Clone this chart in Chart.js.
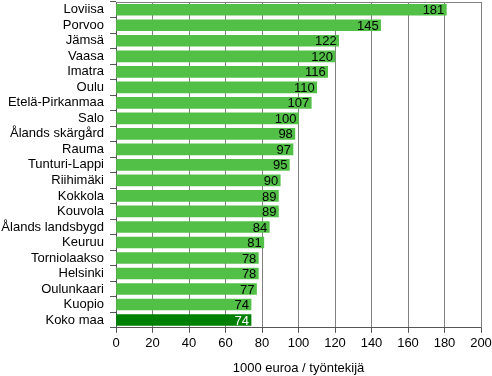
<!DOCTYPE html>
<html lang="fi">
<head>
<meta charset="UTF-8">
<title>1000 euroa / työntekijä</title>
<script src="https://cdn.jsdelivr.net/npm/chart.js"></script>
<style>
  html, body { margin: 0; padding: 0; background: #ffffff; }
  #wrap { width: 492px; height: 376px; }
</style>
</head>
<body>
<div id="wrap"><canvas id="chart" width="492" height="376"></canvas></div>
<script>
const regions = ['Loviisa', 'Porvoo', 'Jämsä', 'Vaasa', 'Imatra', 'Oulu', 'Etelä-Pirkanmaa', 'Salo',
  'Ålands skärgård', 'Rauma', 'Tunturi-Lappi', 'Riihimäki', 'Kokkola', 'Kouvola', 'Ålands landsbygd',
  'Keuruu', 'Torniolaakso', 'Helsinki', 'Oulunkaari', 'Kuopio', 'Koko maa'];
const values = [181, 145, 122, 120, 116, 110, 107, 100, 98, 97, 95, 90, 89, 89, 84, 81, 78, 78, 77, 74, 74];
const xTitle = '1000 euroa / työntekijä';

const barColors = regions.map(r => r === 'Koko maa' ? '#008000' : '#52c047');
const FONT = { family: 'Liberation Sans, Arial, sans-serif', size: 13 };

// value labels drawn inside the bar end
const valueLabels = {
  id: 'valueLabels',
  afterDatasetsDraw(chart) {
    const ctx = chart.ctx;
    const meta = chart.getDatasetMeta(0);
    ctx.save();
    ctx.font = '13px ' + FONT.family;
    ctx.textAlign = 'right';
    ctx.textBaseline = 'middle';
    meta.data.forEach((bar, i) => {
      ctx.fillStyle = regions[i] === 'Koko maa' ? '#ffffff' : '#000000';
      ctx.fillText(String(values[i]), bar.x - 2, bar.y + 1);
    });
    ctx.restore();
  }
};

// frame on top and right of plot area
const frame = {
  id: 'frame',
  afterDraw(chart) {
    const { ctx, chartArea: a } = chart;
    ctx.save();
    ctx.strokeStyle = '#808080';
    ctx.lineWidth = 1;
    ctx.beginPath();
    ctx.moveTo(a.left, a.top + 0.5);
    ctx.lineTo(a.right + 0.5, a.top + 0.5);
    ctx.lineTo(a.right + 0.5, a.bottom);
    ctx.stroke();
    ctx.restore();
  }
};

new Chart(document.getElementById('chart'), {
  type: 'bar',
  data: {
    labels: regions,
    datasets: [{
      data: values,
      backgroundColor: barColors,
      barThickness: 11
    }]
  },
  options: {
    indexAxis: 'y',
    responsive: false,
    animation: false,
    layout: { padding: { top: 2, right: 11, left: 0, bottom: 0 } },
    plugins: { legend: { display: false }, tooltip: { enabled: false } },
    scales: {
      x: {
        min: 0, max: 200,
        ticks: { stepSize: 20, color: '#000', font: FONT, padding: 3 },
        grid: { color: '#808080', tickLength: 5, tickColor: '#555' },
        border: { color: '#555' },
        title: { display: true, text: xTitle, color: '#000', font: FONT, padding: { top: 6, bottom: 0 } },
        afterFit(scale) {
          scale.paddingLeft = 0;
          scale.paddingRight = 0;
        }
      },
      y: {
        ticks: { color: '#000', font: FONT, padding: 6, autoSkip: false },
        grid: { drawOnChartArea: false, tickLength: 6, tickColor: '#555' },
        border: { color: '#555' },
        afterFit(scale) {
          scale.width = 116;
          scale.paddingTop = 0;
          scale.paddingBottom = 0;
        }
      }
    }
  },
  plugins: [valueLabels, frame]
});
</script>
</body>
</html>
